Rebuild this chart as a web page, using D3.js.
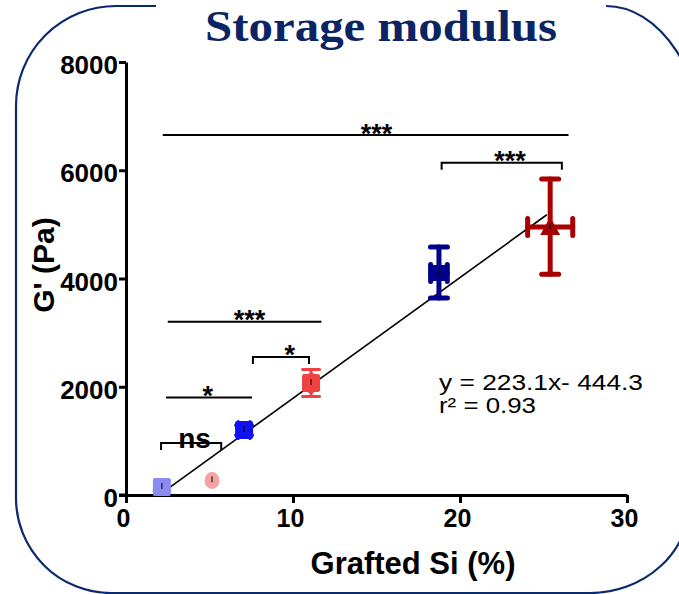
<!DOCTYPE html>
<html><head><meta charset="utf-8">
<script src="https://cdn.jsdelivr.net/npm/d3@7"></script>
<style>html,body{margin:0;padding:0;background:#fff;}svg{display:block;}</style>
</head><body>
<script>
// ---- data ----
const xTicks = [0, 10, 20, 30];
const yTicks = [0, 2000, 4000, 6000, 8000];
const groups = ["g1", "g2", "g3", "g4", "g5", "g6"];
const siValues = [2.15, 5.15, 7.07, 11.08, 18.74, 25.4];
const gValues = [150, 270, 1200, 2070, 4100, 4950];
const gErrUp = [60, 60, 90, 250, 480, 890];
const gErrDown = [60, 60, 90, 250, 460, 870];
const siErr = [0.1, 0.1, 0.35, 0.1, 0.5, 1.35];
const markerColors = ["#8b8bf2", "#f4a3a3", "#1010f0", "#f04040", "#00008b", "#a80000"];
const markerShapes = ["square", "circle", "square", "square", "square", "triangle"];
const fitSlope = 223.1, fitIntercept = -444.3, fitR2 = 0.93;
const fitRange = [2.0, 25.2];
// significance annotations
const sigX1 = [2.2, 18.9, 2.5, 7.6, 2.4, 2.1];
const sigX2 = [26.5, 26.1, 11.7, 10.96, 7.55, 5.7];
const sigY = [6650, 6140, 3200, 2550, 1800, 960];
const sigLabelX = [15.0, 23.0, 7.4, 9.8, 4.9, 4.1];
const sigLabels = ["***", "***", "***", "*", "*", "ns"];
const sigBracket = [false, true, false, true, false, true];

const W = 679, H = 594;
const svg = d3.select("body").append("svg").attr("width", W).attr("height", H);

// frame
const frame = svg.append("g").attr("fill", "none").attr("stroke", "#0a2a6e").attr("stroke-width", 2.2);
frame.append("path").attr("d", "M156 6 L116 6 A100 100 0 0 0 16 106 L16 498 A95 95 0 0 0 111 593 L590 593 A100 92 0 0 0 690 501");
frame.append("path").attr("d", "M606 6 A100 155 0 0 1 706 161");

svg.append("text").attr("x", 381).attr("y", 41).attr("text-anchor", "middle")
  .attr("font-family", "'Liberation Serif', 'DejaVu Serif', serif").attr("font-weight", "bold")
  .attr("font-size", 45).attr("fill", "#0b2463")
  .attr("textLength", 352).attr("lengthAdjust", "spacingAndGlyphs")
  .text("Storage modulus");

const x = d3.scaleLinear().domain([0, 30]).range([126, 627]);
const y = d3.scaleLinear().domain([0, 8000]).range([495, 62]);
const font = "Arial, 'Liberation Sans', sans-serif";

// axes
const xAxis = svg.append("g").attr("transform", `translate(0,${y(0)})`)
  .call(d3.axisBottom(x).tickValues(xTicks).tickSize(8).tickSizeOuter(0).tickPadding(6).tickFormat(d3.format("d")));
const yAxis = svg.append("g").attr("transform", `translate(${x(0)},0)`)
  .call(d3.axisLeft(y).tickValues(yTicks).tickSize(7).tickSizeOuter(0).tickPadding(1).tickFormat(d3.format("d")));
[xAxis, yAxis].forEach(a => {
  a.select(".domain").attr("stroke", "#000").attr("stroke-width", 3);
  a.selectAll(".tick line").attr("stroke", "#000").attr("stroke-width", 3);
  a.selectAll(".tick text").attr("font-family", font).attr("font-weight", "bold").attr("fill", "#000");
});
xAxis.selectAll(".tick text").attr("font-size", 25).attr("dx", -3);
yAxis.selectAll(".tick text").attr("font-size", 26).attr("dy", "0.45em");
svg.append("line").attr("x1", x(0) - 7).attr("x2", x(0)).attr("y1", y(0)).attr("y2", y(0)).attr("stroke", "#000").attr("stroke-width", 3);

svg.append("text").attr("x", 413).attr("y", 574).attr("text-anchor", "middle")
  .attr("font-family", font).attr("font-weight", "bold").attr("font-size", 31).text("Grafted Si (%)");
svg.append("text").attr("transform", "translate(54,265) rotate(-90)").attr("text-anchor", "middle")
  .attr("font-family", font).attr("font-weight", "bold").attr("font-size", 30).text("G' (Pa)");

// significance annotations
const sig = svg.append("g");
sigLabels.forEach((lab, i) => {
  const yy = y(sigY[i]);
  const x1 = x(sigX1[i]), x2 = x(sigX2[i]);
  if (sigBracket[i]) {
    sig.append("path").attr("d", `M${x1} ${yy + 7} L${x1} ${yy} L${x2} ${yy} L${x2} ${yy + 7}`)
      .attr("fill", "none").attr("stroke", "#000").attr("stroke-width", 2);
  } else {
    sig.append("line").attr("x1", x1).attr("x2", x2).attr("y1", yy).attr("y2", yy)
      .attr("stroke", "#000").attr("stroke-width", 2);
  }
  const isNs = lab === "ns";
  sig.append("text").attr("x", x(sigLabelX[i])).attr("y", isNs ? yy + 5 : yy + 7.5)
    .attr("text-anchor", "middle").attr("font-family", font).attr("font-weight", "bold")
    .attr("font-size", isNs ? 28 : 27).text(lab);
});

// fit line
svg.append("line")
  .attr("x1", x(fitRange[0])).attr("y1", y(fitSlope * fitRange[0] + fitIntercept))
  .attr("x2", x(fitRange[1])).attr("y2", y(fitSlope * fitRange[1] + fitIntercept))
  .attr("stroke", "#000").attr("stroke-width", 1.6);

// points with error bars
const pts = svg.append("g");
groups.forEach((g, i) => {
  const cx = x(siValues[i]), cy = y(gValues[i]);
  const c = markerColors[i];
  const big = i >= 4;
  const sw = big ? 5 : 3;
  const cap = 17;
  const yt = y(gValues[i] + gErrUp[i]), yb = y(gValues[i] - gErrDown[i]);
  const xl = x(siValues[i] - siErr[i]), xr = x(siValues[i] + siErr[i]);
  const eb = pts.append("g").attr("stroke", c).attr("stroke-width", sw).attr("stroke-linecap", "round");
  if (i >= 2) {
    eb.append("line").attr("x1", cx).attr("x2", cx).attr("y1", yt).attr("y2", yb);
    eb.append("line").attr("x1", cx - cap / 2).attr("x2", cx + cap / 2).attr("y1", yt).attr("y2", yt);
    eb.append("line").attr("x1", cx - cap / 2).attr("x2", cx + cap / 2).attr("y1", yb).attr("y2", yb);
    eb.append("line").attr("x1", xl).attr("x2", xr).attr("y1", cy).attr("y2", cy);
    eb.append("line").attr("x1", xl).attr("x2", xl).attr("y1", cy - cap / 2).attr("y2", cy + cap / 2);
    eb.append("line").attr("x1", xr).attr("x2", xr).attr("y1", cy - cap / 2).attr("y2", cy + cap / 2);
  }
  const shape = markerShapes[i];
  const s = big ? 16 : 18;
  if (shape === "square") {
    pts.append("rect").attr("x", cx - s / 2).attr("y", cy - s / 2).attr("width", s).attr("height", s)
      .attr("rx", 2).attr("fill", c);
  } else if (shape === "circle") {
    pts.append("ellipse").attr("cx", cx).attr("cy", cy).attr("rx", 7.5).attr("ry", 8.5).attr("fill", c);
  } else {
    pts.append("path").attr("d", `M${cx} ${cy - 10} L${cx + 10} ${cy + 8} L${cx - 10} ${cy + 8} Z`).attr("fill", c);
  }
  pts.append("line").attr("x1", cx).attr("x2", cx).attr("y1", cy - 4).attr("y2", cy + 2)
    .attr("stroke", "#000").attr("stroke-width", 1);
});

// equation
const eq = svg.append("g").attr("font-family", font).attr("font-size", 22).attr("fill", "#000");
eq.append("text").attr("x", 439).attr("y", 390).attr("textLength", 204).attr("lengthAdjust", "spacingAndGlyphs")
  .text(`y = ${fitSlope}x- ${Math.abs(fitIntercept)}`);
eq.append("text").attr("x", 439).attr("y", 413).attr("textLength", 97).attr("lengthAdjust", "spacingAndGlyphs")
  .text(`r² = ${fitR2}`);
</script>
</body></html>
